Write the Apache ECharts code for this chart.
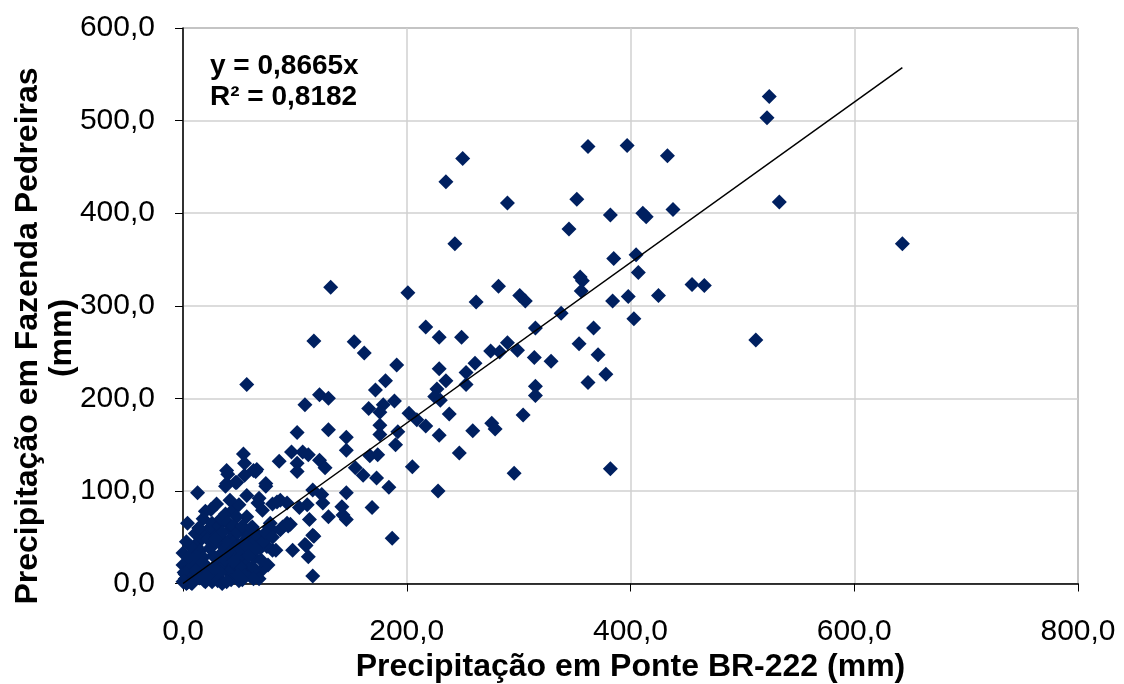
<!DOCTYPE html>
<html>
<head>
<meta charset="utf-8">
<script src="https://cdn.jsdelivr.net/npm/echarts@6/dist/echarts.min.js"></script>
<style>
html,body{margin:0;padding:0;background:#fff;}
#c{width:1124px;height:684px;}
</style>
</head>
<body>
<div id="c"></div>
<script>
// Precipitação em Ponte BR-222 (x) vs Fazenda Pedreiras (y), mm
const pontoX = [
643,524,522,533,512,466,455,433,397,362,250,235,290,243,352,345,382,411,414,438,
405,407,385,355,357,356,398,425,384,403,367,371,378,382,354,362,338,315,301,306,
282,262,249,229,217,201,132,117,57,153,162,191,181,172,296,228,187,116,
275,283,290,299,314,329,261,253,229,235,227,225,230,253,315,315,304,202,209,217,
238,229,259,276,279,247,205,
122,130,109,166,179,189,176,102,130,146,146,176,176,192,190,97,107,112,86,102,
102,122,127,154,161,167,174,173,184,116,124,125,146,142,143,146,130,111,104,87,
80,169,113,96,89,78,116,109,98,80,112,
54,55,66,63,39,39,47,74,13,30,57,74,68,55,38,40,48,65,67,71,
84,93,57,62,78,93,75,66,71,58,49,35,77,94,69,83,110,117,67,78,87,
0,4,18,11,0,1,2,0,3,5,6,8,10,12,14,16,20,22,24,26,
28,30,32,34,36,38,40,42,44,46,48,50,52,54,56,58,60,62,64,66,
68,45,50,48,42,25,20,15,18,20,22,24,26,28,30,32,34,36,38,40,
42,44,46,48,50,52,54,56,58,60,62,64,66,9,12,14,16,18,20,7,
9,5,3,14,24,27,29,31,33,35,37,39,41,43,45,47,49,51,53,55,
57,59,61,63,65,70,72,74,76,80,2,6,10,13,17,21,25,29,33,37,
41,45,49,53,4,8,1,7,11,15,19,23,27,31,35,39,43,47,51,55
];
const pontoY = [
367,526,503,412,263,322,323,462,473,472,459,434,411,367,415,383,398,400,396,404,
355,336,351,331,327,316,310,311,305,286,276,247,226,124,259,217,292,276,311,305,
321,304,266,266,277,314,320,262,215,261,249,236,219,209,119,100,49,8,
251,250,260,252,244,240,238,228,232,219,210,202,198,215,213,203,182,184,177,170,
183,160,165,173,167,141,126,
204,200,193,189,193,197,185,163,166,158,144,171,161,164,150,142,142,139,132,130,
121,133,125,125,117,138,139,114,104,101,96,87,98,83,74,69,72,85,82,90,
86,82,69,64,61,58,52,42,36,36,29,
140,130,123,122,122,108,109,108,98,86,95,105,92,117,105,118,109,121,87,79,
88,87,72,61,65,65,40,38,15,15,7,2,61,62,38,36,41,51,52,55,58,
33,65,70,54,20,12,5,2,0,8,15,25,30,40,45,50,55,48,60,65,
58,52,62,70,69,75,66,58,50,45,40,35,30,25,20,12,8,18,28,10,
5,80,85,72,90,80,78,35,28,20,12,5,2,10,18,25,32,40,45,38,
30,22,15,8,3,12,45,55,50,42,35,45,52,3,8,15,10,5,2,40,
20,28,45,60,38,30,44,8,14,55,20,28,12,4,62,28,55,18,62,8,
40,30,60,5,38,25,45,55,20,50,10,4,18,28,22,6,14,48,12,26,
33,24,9,4,1,0,3,1,14,6,3,11,17,3,0,2
];
const slope = 0.8665;
const eqText = 'y = 0,8665x';
const r2Text = 'R² = 0,8182';
const xTicks = [0,200,400,600,800];
const yTicks = [0,100,200,300,400,500,600];

const pts = pontoX.map((x,i)=>[x,pontoY[i]]);
const maxX = Math.max.apply(null, pontoX);
const trend = [[0,0],[maxX, slope*maxX]];
const fmt = v => v.toFixed(1).replace('.', ',');

const chart = echarts.init(document.getElementById('c'), null, {renderer:'canvas'});
chart.setOption({
  animation:false,
  backgroundColor:'#fff',
  grid:{left:183,right:46,top:28,bottom:100.5,containLabel:false,outerBoundsMode:'none',show:true,borderColor:'#404040',borderWidth:1,backgroundColor:'transparent'},
  xAxis:{
    type:'value',min:xTicks[0],max:xTicks[xTicks.length-1],interval:200,
    axisLine:{show:true,onZero:false,lineStyle:{color:'#000',width:1.5}},
    axisTick:{show:true,length:8,lineStyle:{color:'#000'}},
    axisLabel:{formatter:fmt,color:'#000',fontFamily:'Liberation Sans',fontSize:30,margin:33},
    splitLine:{show:true,lineStyle:{color:'#d0d0d0',width:1.5}},
    name:'Precipitação em Ponte BR-222 (mm)',nameLocation:'middle',nameGap:64,
    nameTextStyle:{color:'#000',fontFamily:'Liberation Sans',fontWeight:'bold',fontSize:32}
  },
  yAxis:{
    type:'value',min:yTicks[0],max:yTicks[yTicks.length-1],interval:100,
    axisLine:{show:true,onZero:false,lineStyle:{color:'#000',width:1.5}},
    axisTick:{show:true,length:8,lineStyle:{color:'#000'}},
    axisLabel:{formatter:fmt,color:'#000',fontFamily:'Liberation Sans',fontSize:30,margin:28},
    splitLine:{show:true,lineStyle:{color:'#d0d0d0',width:1.5}}
  },
  graphic:[
    {type:'text',left:210,top:52,style:{text:eqText,fill:'#000',font:'bold 28px "Liberation Sans"'}},
    {type:'text',left:210,top:83,style:{text:r2Text,fill:'#000',font:'bold 28px "Liberation Sans"'}},
    {type:'text',x:28,y:336,rotation:Math.PI/2,style:{text:'Precipitação em Fazenda Pedreiras',fill:'#000',font:'bold 32px "Liberation Sans"',align:'center',verticalAlign:'middle'}},
    {type:'text',x:62,y:338,rotation:Math.PI/2,style:{text:'(mm)',fill:'#000',font:'bold 32px "Liberation Sans"',align:'center',verticalAlign:'middle'}}
  ],
  series:[
    {type:'scatter',data:pts,symbol:'diamond',symbolSize:15,itemStyle:{color:'#002060',opacity:1},z:2},
    {type:'line',data:trend,showSymbol:false,symbol:'none',lineStyle:{color:'#000',width:1.5},z:3,silent:true}
  ]
});
</script>
</body>
</html>
